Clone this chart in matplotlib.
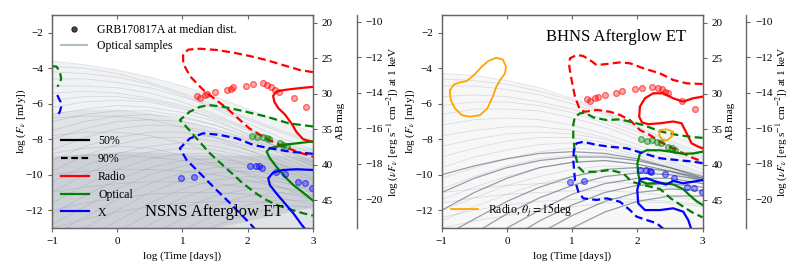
import numpy as np
import matplotlib
matplotlib.use("Agg")
import matplotlib.pyplot as plt
from matplotlib.lines import Line2D

plt.rcParams['font.family'] = ['Liberation Serif', 'DejaVu Serif']
plt.rcParams['mathtext.fontset'] = 'stix'

# ---------------- common grid for the sample light curves ----------------
gx = [-1, -0.5, 0, 0.5, 1, 1.5, 2, 2.5, 3]

# ---------------- NSNS panel: optical samples (log F at gx) ----------------
ns_samples = [
    [-3.6, -3.8, -4.1, -4.5, -5.0, -5.6, -6.3, -7.0, -7.6],
    [-3.9, -4.0, -4.3, -4.8, -5.4, -6.1, -6.8, -7.5, -8.1],
    [-4.2, -4.3, -4.5, -4.9, -5.5, -6.3, -7.1, -7.9, -8.6],
    [-4.6, -4.6, -4.8, -5.1, -5.6, -6.2, -6.9, -7.6, -8.2],
    [-5.0, -5.0, -5.1, -5.4, -5.9, -6.6, -7.4, -8.2, -9.0],
    [-5.4, -5.3, -5.4, -5.7, -6.1, -6.7, -7.4, -8.1, -8.8],
    [-5.8, -5.6, -5.6, -5.8, -6.2, -6.9, -7.7, -8.5, -9.3],
    [-6.2, -5.9, -5.8, -5.9, -6.3, -6.8, -7.5, -8.3, -9.0],
    [-6.6, -6.3, -6.1, -6.2, -6.5, -7.0, -7.7, -8.5, -9.3],
    [-7.0, -6.6, -6.4, -6.4, -6.7, -7.2, -7.9, -8.6, -9.4],
    [-7.5, -7.0, -6.7, -6.6, -6.8, -7.2, -7.8, -8.5, -9.2],
    [-8.0, -7.4, -7.0, -6.9, -7.0, -7.4, -8.0, -8.7, -9.5],
    [-8.6, -7.9, -7.4, -7.2, -7.3, -7.6, -8.1, -8.8, -9.5],
    [-9.2, -8.4, -7.9, -7.6, -7.6, -7.9, -8.4, -9.0, -9.7],
    [-9.8, -8.9, -8.3, -7.9, -7.9, -8.1, -8.6, -9.2, -9.9],
    [-10.4, -9.5, -8.8, -8.4, -8.2, -8.4, -8.8, -9.4, -10.0],
    [-11.0, -10.0, -9.2, -8.7, -8.5, -8.6, -9.0, -9.5, -10.1],
    [-11.6, -10.6, -9.7, -9.1, -8.8, -8.8, -9.1, -9.6, -10.2],
    [-12.2, -11.2, -10.3, -9.6, -9.2, -9.1, -9.3, -9.7, -10.3],
    [-12.8, -11.8, -10.8, -10.0, -9.5, -9.3, -9.4, -9.8, -10.3],
    [-13.4, -12.4, -11.4, -10.5, -9.9, -9.6, -9.6, -9.9, -10.4],
    [-14.0, -13.0, -12.0, -11.0, -10.3, -9.9, -9.8, -10.0, -10.5],
    [-14.6, -13.6, -12.6, -11.6, -10.8, -10.3, -10.1, -10.2, -10.6],
    [-15.2, -14.2, -13.2, -12.2, -11.3, -10.7, -10.4, -10.4, -10.8],
    [-15.8, -14.8, -13.8, -12.8, -11.9, -11.2, -10.8, -10.7, -11.0],
    [-16.4, -15.4, -14.4, -13.4, -12.5, -11.7, -11.2, -11.0, -11.2],
    [-17.0, -16.0, -15.0, -14.0, -13.1, -12.3, -11.7, -11.4, -11.5],
    [-17.6, -16.6, -15.6, -14.6, -13.7, -12.9, -12.2, -11.8, -11.8],
    [-9.0, -8.9, -8.9, -9.0, -9.2, -9.5, -9.9, -10.4, -10.9],
    [-10.0, -9.8, -9.7, -9.7, -9.8, -10.0, -10.3, -10.7, -11.2],
    [-11.0, -10.7, -10.5, -10.4, -10.4, -10.5, -10.7, -11.0, -11.4],
    [-12.0, -11.6, -11.3, -11.1, -11.0, -11.0, -11.1, -11.3, -11.7],
    [-13.0, -12.5, -12.1, -11.8, -11.6, -11.5, -11.5, -11.6, -11.9],
    [-6.8, -6.7, -6.7, -6.9, -7.3, -7.9, -8.6, -9.4, -10.2],
    [-7.8, -7.6, -7.6, -7.8, -8.2, -8.8, -9.5, -10.2, -11.0],
    [-8.8, -8.5, -8.4, -8.5, -8.9, -9.4, -10.0, -10.7, -11.4],
]
# density bands of the NSNS sample cloud (upper envelopes, lower edges)
ns_band_upper = [
    [-3.6, -3.8, -4.1, -4.5, -5.0, -5.6, -6.3, -7.0, -7.6],
    [-6.5, -6.3, -6.3, -6.5, -6.9, -7.4, -7.9, -8.3, -8.5],
    [-9.0, -8.8, -8.7, -8.7, -8.8, -8.9, -8.9, -8.9, -9.0],
]
ns_band_lower = [
    [-13, -13, -13, -13, -13, -13, -13, -13, -13],
    [-13, -13, -13, -13, -13, -13, -13, -13, -13],
    [-13, -13, -13, -13, -13, -13, -12.6, -12.2, -11.8],
]

# ---------------- BHNS panel samples ----------------
bh_light = [
    [-4.3, -4.4, -4.7, -5.1, -5.7, -6.4, -7.1, -7.8, -8.4],
    [-4.6, -4.7, -4.9, -5.3, -5.8, -6.5, -7.3, -8.1, -8.8],
    [-5.0, -5.0, -5.2, -5.5, -6.0, -6.6, -7.4, -8.2, -9.0],
    [-5.6, -5.5, -5.6, -5.9, -6.3, -6.9, -7.6, -8.4, -9.1],
    [-6.1, -5.9, -5.9, -6.1, -6.5, -7.1, -7.8, -8.6, -9.3],
    [-6.6, -6.3, -6.3, -6.4, -6.8, -7.3, -8.0, -8.7, -9.5],
    [-7.2, -6.9, -6.8, -6.9, -7.2, -7.7, -8.3, -9.0, -9.7],
    [-7.8, -7.5, -7.3, -7.3, -7.5, -7.9, -8.5, -9.2, -9.9],
    [-8.4, -8.0, -7.7, -7.6, -7.7, -8.0, -8.6, -9.3, -10.0],
    [-9.0, -8.5, -8.1, -7.9, -7.9, -8.2, -8.7, -9.4, -10.1],
    [-9.6, -9.0, -8.6, -8.3, -8.2, -8.4, -8.9, -9.5, -10.2],
    [-10.2, -9.6, -9.1, -8.7, -8.5, -8.6, -9.0, -9.6, -10.3],
    [-10.8, -10.1, -9.5, -9.1, -8.9, -8.9, -9.2, -9.7, -10.3],
    [-11.4, -10.7, -10.1, -9.6, -9.3, -9.2, -9.4, -9.8, -10.4],
    [-12.0, -11.3, -10.6, -10.1, -9.7, -9.5, -9.6, -9.9, -10.4],
    [-12.6, -11.8, -11.1, -10.5, -10.1, -9.8, -9.8, -10.0, -10.5],
    [-11.6, -11.3, -11.1, -11.0, -10.9, -10.9, -11.0, -11.2, -11.5],
    [-12.4, -12.0, -11.7, -11.5, -11.4, -11.3, -11.4, -11.5, -11.7],
    [-13.0, -12.6, -12.3, -12.0, -11.8, -11.6, -11.5, -11.6, -11.8],
    [-11.0, -10.8, -10.6, -10.5, -10.4, -10.4, -10.5, -10.7, -11.0],
]
bh_dark = [
    [-13.5, -12.5, -11.5, -10.7, -10.1, -9.7, -9.6, -9.8, -10.2],
    [-14.5, -13.3, -12.2, -11.3, -10.6, -10.1, -9.9, -10.0, -10.3],
    [-15.5, -14.2, -13.0, -12.0, -11.1, -10.5, -10.2, -10.2, -10.5],
    [-16.5, -15.0, -13.7, -12.6, -11.7, -11.0, -10.6, -10.5, -10.7],
    [-17.5, -16.0, -14.5, -13.3, -12.3, -11.5, -11.0, -10.8, -10.9],
    [-18.5, -17.0, -15.5, -14.1, -13.0, -12.1, -11.5, -11.2, -11.2],
    [-12.0, -11.0, -10.2, -9.6, -9.3, -9.2, -9.4, -9.8, -10.3],
    [-11.0, -10.2, -9.6, -9.2, -9.0, -9.0, -9.2, -9.6, -10.1],
    [-10.0, -9.5, -9.1, -8.8, -8.7, -8.8, -9.1, -9.6, -10.2],
]
bh_band_upper = [-4.3, -4.4, -4.7, -5.1, -5.7, -6.4, -7.1, -7.8, -8.4]
bh_band_lower = [-13, -13, -13, -13, -13, -13, -13, -13, -13]

# ---------------- NSNS contours (log t, log F) ----------------
ns_r90_x = [3.0, 2.80, 2.54, 2.29, 2.03, 1.78, 1.52, 1.27, 1.09, 1.01, 1.01, 1.12, 1.32, 1.52, 1.68, 1.83, 2.03, 2.29, 2.54, 2.80, 3.0]
ns_r90_y = [-4.22, -4.10, -3.82, -3.54, -3.31, -3.12, -2.97, -2.90, -2.95, -3.20, -3.73, -4.47, -5.23, -5.80, -6.25, -6.75, -7.40, -7.98, -8.40, -8.76, -8.98]
ns_r50_x = [3.0, 2.85, 2.70, 2.55, 2.44, 2.39, 2.41, 2.47, 2.57, 2.67, 2.75, 2.85, 3.0]
ns_r50_y = [-5.05, -5.10, -5.16, -5.23, -5.32, -5.55, -5.90, -6.25, -6.60, -7.10, -7.60, -8.00, -8.15]
ns_o90_x = [3.0, 2.64, 2.29, 1.93, 1.62, 1.42, 1.27, 1.11, 0.96, 1.06, 1.17, 1.30, 1.42, 1.57, 1.73, 1.90, 2.09, 2.25, 2.44, 2.65, 2.85, 3.0]
ns_o90_y = [-7.28, -7.11, -6.73, -6.41, -6.17, -6.08, -6.17, -6.45, -6.92, -7.30, -7.76, -8.30, -8.79, -9.30, -9.83, -10.40, -10.95, -11.35, -11.70, -11.95, -12.17, -12.30]
ns_o50_x = [3.0, 2.75, 2.545, 2.34, 2.29, 2.34, 2.44, 2.57, 2.70, 2.83, 3.0]
ns_o50_y = [-8.12, -8.23, -8.32, -8.51, -8.70, -9.07, -9.55, -10.11, -10.58, -10.95, -11.45]
ns_x90_x = [3.0, 2.65, 2.34, 2.085, 1.83, 1.575, 1.32, 1.115, 0.96, 1.064, 1.27, 1.47, 1.68, 1.88, 2.03, 2.11]
ns_x90_y = [-8.82, -8.70, -8.51, -8.32, -7.95, -7.76, -7.66, -7.95, -8.51, -9.17, -9.92, -10.67, -11.42, -12.17, -12.73, -13.05]
ns_x50_x = [3.0, 2.75, 2.545, 2.39, 2.315, 2.34, 2.44, 2.57, 2.70, 2.83, 2.88]
ns_x50_y = [-9.73, -9.69, -9.73, -9.88, -10.20, -10.58, -11.05, -11.61, -12.17, -12.83, -13.05]
ns_edge_o90_x = [-1.0, -0.93, -0.88, -0.86, -0.88, -0.92]
ns_edge_o90_y = [-3.88, -3.91, -4.20, -4.57, -4.85, -5.04]
ns_edge_x90_x = [-0.92, -0.87, -0.86, -0.88, -0.93]
ns_edge_x90_y = [-5.51, -5.89, -6.17, -6.45, -6.73]

# ---------------- BHNS contours ----------------
bh_r90_x = [3.0, 2.755, 2.549, 2.346, 2.09, 1.886, 1.733, 1.529, 1.375, 1.273, 1.17, 1.069, 0.966, 0.956, 0.992, 1.043, 1.12, 1.196, 1.375, 1.579, 1.733, 1.886, 2.039, 2.19, 2.346, 2.60, 2.805, 3.0]
bh_r90_y = [-4.89, -4.85, -4.66, -4.29, -4.00, -3.72, -3.67, -3.76, -3.82, -3.54, -3.31, -3.25, -3.44, -3.91, -4.66, -5.60, -6.35, -6.45, -6.35, -6.45, -6.63, -6.92, -7.48, -7.76, -8.14, -8.61, -8.98, -9.26]
bh_r50_x = [3.0, 2.856, 2.70, 2.549, 2.396, 2.243, 2.116, 2.039, 2.028, 2.07, 2.166, 2.346, 2.549, 2.678, 2.755, 2.831, 2.933, 3.0]
bh_r50_y = [-5.60, -5.69, -5.88, -5.69, -5.41, -5.41, -5.69, -6.16, -6.73, -7.05, -7.15, -7.10, -7.00, -7.10, -7.66, -8.23, -8.42, -8.51]
bh_o90_x = [3.0, 2.856, 2.60, 2.346, 2.09, 1.886, 1.733, 1.529, 1.323, 1.196, 1.12, 1.04, 1.017, 1.017, 1.043, 1.094, 1.17, 1.375, 1.579, 1.783, 1.912, 2.09, 2.346, 2.50, 2.703, 2.856, 3.0]
bh_o90_y = [-7.92, -7.88, -7.75, -7.55, -7.20, -7.01, -6.88, -6.92, -6.77, -6.50, -6.54, -6.75, -7.20, -7.86, -8.79, -9.55, -9.83, -9.83, -9.73, -9.92, -10.39, -10.58, -10.80, -11.30, -11.80, -12.15, -12.40]
bh_o50_x = [3.0, 2.856, 2.70, 2.549, 2.346, 2.14, 2.04, 2.0, 2.01, 2.04, 2.15, 2.35, 2.55, 2.70, 2.80, 2.91, 3.0]
bh_o50_y = [-8.70, -8.80, -8.82, -8.72, -8.62, -8.62, -8.80, -9.35, -9.90, -10.35, -10.50, -10.45, -10.55, -10.80, -11.15, -11.50, -11.70]
bh_x90_x = [3.0, 2.856, 2.60, 2.346, 2.09, 1.835, 1.579, 1.375, 1.17, 1.069, 1.03, 1.017, 1.043, 1.094, 1.17, 1.375, 1.529, 1.733, 1.886, 1.988, 2.14, 2.295, 2.40]
bh_x90_y = [-9.35, -9.26, -9.17, -9.07, -8.79, -8.51, -8.42, -8.32, -8.14, -8.23, -8.42, -9.17, -10.30, -10.95, -11.33, -11.42, -11.33, -11.52, -11.99, -12.36, -12.55, -12.73, -13.05]
bh_x50_x = [3.0, 2.856, 2.70, 2.549, 2.44, 2.30, 2.14, 2.039, 1.998, 2.013, 2.116, 2.346, 2.549, 2.703, 2.78, 2.83]
bh_x50_y = [-10.30, -10.39, -10.48, -10.35, -10.55, -10.40, -10.20, -10.26, -10.86, -11.61, -11.99, -11.99, -11.89, -12.08, -12.55, -13.10]
bh_orange_x = [-0.872, -0.811, -0.719, -0.617, -0.489, -0.387, -0.285, -0.167, -0.065, -0.014, -0.029, -0.106, -0.167, -0.218, -0.30, -0.413, -0.566, -0.693, -0.796, -0.862, -0.872, -0.872]
bh_orange_y = [-5.23, -4.91, -4.80, -4.72, -4.33, -3.91, -3.59, -3.41, -3.50, -3.91, -4.29, -4.67, -5.08, -5.61, -6.26, -6.64, -6.73, -6.64, -6.26, -5.79, -5.42, -5.23]
bh_orange2_x = [2.346, 2.448, 2.549, 2.524, 2.448, 2.372, 2.335, 2.346]
bh_orange2_y = [-7.48, -7.44, -7.57, -7.86, -8.08, -8.00, -7.76, -7.48]

# ---------------- GRB170817A points ----------------
ns_radio_t = [1.217, 1.268, 1.345, 1.38, 1.50, 1.68, 1.74, 1.77, 1.97, 2.075, 2.23, 2.30, 2.35, 2.42, 2.48, 2.71, 2.90]
ns_radio_f = [-5.56, -5.70, -5.51, -5.45, -5.32, -5.23, -5.17, -5.08, -5.00, -4.89, -4.85, -4.94, -5.03, -5.23, -5.34, -5.70, -6.17]
ns_opt_t = [2.06, 2.137, 2.23, 2.29, 2.33, 2.49, 2.545, 2.60]
ns_opt_f = [-7.80, -7.89, -7.89, -7.95, -7.98, -8.23, -8.32, -8.38]
ns_x_t = [0.97, 1.176, 2.03, 2.12, 2.18, 2.22, 2.43, 2.57, 2.775, 2.88, 2.98]
ns_x_f = [-10.20, -10.15, -9.51, -9.51, -9.51, -9.64, -9.83, -9.98, -10.39, -10.48, -10.73]

bh_radio_t = [1.222, 1.273, 1.35, 1.40, 1.503, 1.672, 1.759, 1.963, 2.065, 2.218, 2.32, 2.372, 2.42, 2.474, 2.678, 2.883]
bh_radio_f = [-5.74, -5.85, -5.70, -5.64, -5.51, -5.42, -5.27, -5.19, -5.10, -5.08, -5.14, -5.19, -5.32, -5.42, -5.83, -6.32]
bh_opt_t = [2.05, 2.14, 2.23, 2.295, 2.356, 2.474, 2.525, 2.576]
bh_opt_f = [-8.01, -8.09, -8.05, -8.14, -8.20, -8.42, -8.52, -8.61]
bh_x_t = [0.967, 1.186, 2.04, 2.13, 2.20, 2.216, 2.42, 2.56, 2.765, 2.872, 2.985]
bh_x_f = [-10.40, -10.34, -9.74, -9.74, -9.78, -9.87, -9.97, -10.21, -10.68, -10.72, -10.96]

# ---------------- styling ----------------
RED, GREEN, BLUE, ORANGE = '#ff0000', '#008000', '#0000ff', '#ffa500'
DASH = (0, (3.6, 1.9))
LW = 1.6
SPINE = '0.4'
TICKFS = 8

fig = plt.figure(figsize=(7.93, 2.65), dpi=100)
ax1 = fig.add_axes([0.0656, 0.1396, 0.329, 0.8038])
ax2 = fig.add_axes([0.557, 0.1396, 0.329, 0.8038])


def setup(ax):
    ax.set_xlim(-1, 3)
    ax.set_ylim(-13, -1)
    ax.set_xticks([-1, 0, 1, 2, 3])
    ax.set_yticks([-12, -10, -8, -6, -4, -2])
    ax.tick_params(labelsize=TICKFS, direction='out', length=3, color=SPINE, width=0.8)
    for s in ax.spines.values():
        s.set_color(SPINE)
        s.set_linewidth(1.0)
    top = ax.secondary_xaxis('top')
    top.set_xticks([-1, 0, 1, 2, 3])
    top.tick_params(direction='in', length=3, color=SPINE, labeltop=False)
    top.spines['top'].set_visible(False)
    ax.set_xlabel('log (Time [days])', fontsize=8)
    ax.set_ylabel(r'log ($F_\nu$ [mJy])', fontsize=8)
    ax.yaxis.set_label_coords(-0.093, 0.5)
    # AB mag axis
    axm = ax.twinx()
    axm.set_ylim(16.4 + 2.5 * 13, 16.4 + 2.5 * 1)
    axm.set_yticks([20, 25, 30, 35, 40, 45])
    axm.tick_params(labelsize=TICKFS, direction='out', length=3, color=SPINE, width=0.8)
    axm.set_ylabel('AB mag', fontsize=8)
    axm.yaxis.set_label_coords(1.088, 0.5)
    for s in axm.spines.values():
        s.set_color(SPINE)
    # nuFnu at 1 keV
    axk = ax.twinx()
    axk.spines['right'].set_position(('outward', 31.5))
    axk.set_ylim(-13 - 8.617, -1 - 8.617)
    axk.set_yticks([-20, -18, -16, -14, -12, -10])
    axk.tick_params(labelsize=TICKFS, direction='out', length=3, color=SPINE, width=0.8)
    axk.set_ylabel(r'log ($\nu F_\nu$ [erg s$^{-1}$ cm$^{-2}$]) at 1 keV', fontsize=8)
    axk.yaxis.set_label_coords(1.272, 0.5)
    for k, s in axk.spines.items():
        if k != 'right':
            s.set_visible(False)
        else:
            s.set_color(SPINE)
            s.set_linewidth(1.0)


for ax in (ax1, ax2):
    setup(ax)

# ---------------- NSNS panel ----------------
for up, lo, a in zip(ns_band_upper, ns_band_lower, [0.12, 0.16, 0.24]):
    ax1.fill_between(gx, lo, up, color='#8f9aa6', alpha=a, lw=0, zorder=1)
for c in ns_samples:
    ax1.plot(gx, c, color='#7f8b97', alpha=0.25, lw=0.6, zorder=2)

ax1.plot(ns_r90_x, ns_r90_y, color=RED, lw=LW, ls=DASH, zorder=4)
ax1.plot(ns_r50_x, ns_r50_y, color=RED, lw=LW, zorder=4)
ax1.plot(ns_o90_x, ns_o90_y, color=GREEN, lw=LW, ls=DASH, zorder=4)
ax1.plot(ns_o50_x, ns_o50_y, color=GREEN, lw=LW, zorder=4)
ax1.plot(ns_x90_x, ns_x90_y, color=BLUE, lw=LW, ls=DASH, zorder=4)
ax1.plot(ns_x50_x, ns_x50_y, color=BLUE, lw=LW, zorder=4)
ax1.plot(ns_edge_o90_x, ns_edge_o90_y, color=GREEN, lw=LW, ls=DASH, zorder=4)
ax1.plot(ns_edge_x90_x, ns_edge_x90_y, color=BLUE, lw=LW, ls=DASH, zorder=4)


def pts(ax, t, f, col):
    ax.plot(t, f, ls='none', marker='o', ms=4.2, mfc=matplotlib.colors.to_rgba(col, 0.35),
            mec=matplotlib.colors.to_rgba(col, 0.55), mew=0.9, zorder=5)


pts(ax1, ns_radio_t, ns_radio_f, RED)
pts(ax1, ns_opt_t, ns_opt_f, GREEN)
pts(ax1, ns_x_t, ns_x_f, BLUE)

h1 = [Line2D([], [], ls='none', marker='o', ms=3.5, mfc='0.3', mec='0.15'),
      Line2D([], [], color='#b4bec8', lw=1.5)]
leg1 = ax1.legend(h1, ['GRB170817A at median dist.', 'Optical samples'], loc='upper left',
                  bbox_to_anchor=(0.0, 1.0), frameon=False, fontsize=8.5, handlelength=2.2,
                  labelspacing=0.3, borderaxespad=0.4)
ax1.add_artist(leg1)
h2 = [Line2D([], [], color='k', lw=LW), Line2D([], [], color='k', lw=LW, ls=(0, (3, 1.6))),
      Line2D([], [], color=RED, lw=LW), Line2D([], [], color=GREEN, lw=LW),
      Line2D([], [], color=BLUE, lw=LW)]
ax1.legend(h2, ['50%', '90%', 'Radio', 'Optical', 'X'], loc='lower left',
           bbox_to_anchor=(0.0, 0.0), frameon=False, fontsize=8.5, handlelength=2.3,
           labelspacing=0.5, borderaxespad=0.4)
ax1.text(0.62, 0.075, 'NSNS Afterglow ET', transform=ax1.transAxes, fontsize=12,
         ha='center', va='center', zorder=6)

# ---------------- BHNS panel ----------------
ax2.fill_between(gx, bh_band_lower, bh_band_upper, color='#9aa4ae', alpha=0.08, lw=0, zorder=1)
for c in bh_light:
    ax2.plot(gx, c, color='#8c98a4', alpha=0.28, lw=0.6, zorder=2)
for c in bh_dark:
    ax2.plot(gx, c, color='#56626e', alpha=0.6, lw=0.9, zorder=2)

ax2.plot(bh_r90_x, bh_r90_y, color=RED, lw=LW, ls=DASH, zorder=4)
ax2.plot(bh_r50_x, bh_r50_y, color=RED, lw=LW, zorder=4)
ax2.plot(bh_o90_x, bh_o90_y, color=GREEN, lw=LW, ls=DASH, zorder=4)
ax2.plot(bh_o50_x, bh_o50_y, color=GREEN, lw=LW, zorder=4)
ax2.plot(bh_x90_x, bh_x90_y, color=BLUE, lw=LW, ls=DASH, zorder=4)
ax2.plot(bh_x50_x, bh_x50_y, color=BLUE, lw=LW, zorder=4)
ax2.plot(bh_orange_x, bh_orange_y, color=ORANGE, lw=1.3, zorder=4)
ax2.plot(bh_orange2_x, bh_orange2_y, color=ORANGE, lw=1.3, zorder=4)

pts(ax2, bh_radio_t, bh_radio_f, RED)
pts(ax2, bh_opt_t, bh_opt_f, GREEN)
pts(ax2, bh_x_t, bh_x_f, BLUE)

ax2.legend([Line2D([], [], color=ORANGE, lw=1.3)], [r'Radio, $\theta_j = 15$deg'],
           loc='lower left', bbox_to_anchor=(0.0, 0.0), frameon=False, fontsize=8.5,
           handlelength=2.3, borderaxespad=0.4)
ax2.text(0.67, 0.898, 'BHNS Afterglow ET', transform=ax2.transAxes, fontsize=12,
         ha='center', va='center', zorder=6)

fig.savefig('out.png', dpi=100)
